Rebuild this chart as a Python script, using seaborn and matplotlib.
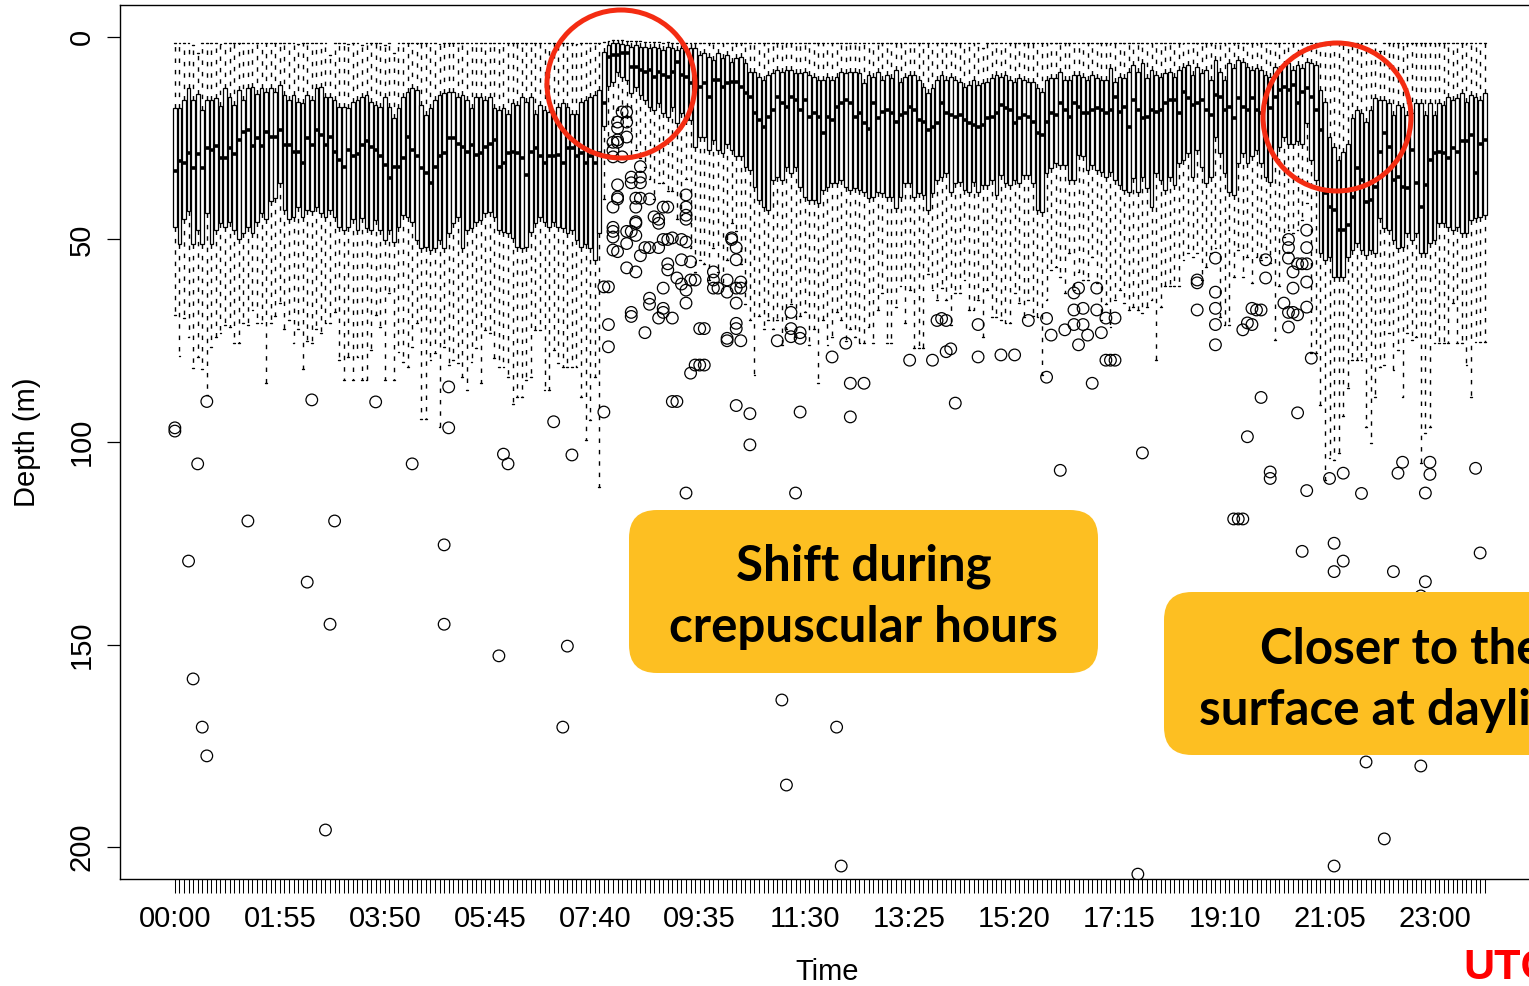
import numpy as np
import pandas as pd
import matplotlib
matplotlib.use("Agg")
import matplotlib.pyplot as plt
import seaborn as sns
from matplotlib.patches import Ellipse, FancyBboxPatch
from matplotlib.transforms import IdentityTransform

# ---------------- data (depth in m, one box every 5 minutes) ----------------
time_tick_labels = ["00:00", "01:55", "03:50", "05:45", "07:40", "09:35", "11:30",
                    "13:25", "15:20", "17:15", "19:10", "21:05", "23:00"]

upper_whisker = [
    1.6, 1.4, 1.6, 1.4, 2.0, 4.0, 1.6, 1.6, 1.4, 1.6, 1.8, 1.6,
    1.6, 1.4, 1.6, 1.6, 1.6, 1.6, 1.4, 1.6, 1.6, 1.4, 1.6, 1.6,
    1.6, 1.4, 1.6, 1.8, 1.6, 1.6, 1.6, 1.4, 1.6, 1.6, 4.5, 1.6,
    1.4, 1.6, 1.8, 1.6, 1.6, 2.0, 1.6, 1.4, 1.6, 1.6, 2.0, 1.6,
    4.0, 1.6, 1.4, 1.6, 1.6, 1.6, 1.4, 1.6, 1.6, 1.6, 1.8, 1.4,
    1.6, 1.6, 1.4, 1.6, 1.6, 1.4, 1.6, 1.6, 1.6, 1.4, 1.6, 1.6,
    1.6, 1.4, 1.6, 1.6, 1.4, 1.6, 1.6, 1.6, 1.4, 1.6, 1.6, 1.4,
    1.6, 1.6, 1.4, 1.6, 1.8, 1.6, 1.6, 1.4, 1.6, 1.6, 1.2, 1.0,
    0.8, 0.8, 0.8, 1.0, 1.0, 1.0, 1.0, 1.2, 1.2, 1.2, 1.2, 1.4,
    1.2, 1.4, 1.4, 1.4, 1.4, 1.4, 1.4, 1.6, 1.6, 1.6, 1.4, 1.6,
    1.6, 1.4, 1.6, 1.6, 1.6, 1.4, 1.6, 1.6, 1.6, 1.4, 1.6, 1.6,
    1.6, 1.4, 1.6, 1.6, 1.6, 1.4, 1.6, 1.6, 1.4, 1.6, 1.6, 1.6,
    1.6, 1.4, 1.6, 1.6, 1.6, 1.6, 1.4, 1.6, 1.6, 1.6, 1.4, 1.6,
    1.6, 1.6, 1.4, 1.6, 1.6, 1.6, 1.6, 1.4, 1.6, 1.6, 1.6, 1.4,
    1.6, 1.6, 1.6, 1.4, 1.6, 1.6, 1.6, 1.6, 1.4, 2.8, 1.6, 1.6,
    1.6, 1.4, 1.6, 1.6, 1.6, 1.4, 1.6, 1.6, 1.6, 1.6, 1.4, 1.6,
    1.6, 1.6, 1.4, 1.6, 1.6, 1.6, 1.4, 1.6, 1.6, 1.6, 1.4, 1.6,
    1.6, 1.4, 1.6, 1.6, 1.6, 1.4, 1.6, 1.6, 1.6, 1.4, 1.6, 1.6,
    1.6, 1.4, 1.6, 1.6, 1.4, 1.6, 1.6, 1.6, 1.4, 1.6, 1.6, 1.6,
    1.6, 1.6, 1.4, 1.6, 1.6, 1.6, 1.4, 1.6, 1.6, 1.6, 1.6, 1.6,
    1.6, 1.6, 1.6, 1.6, 1.6, 1.6, 1.6, 1.6, 1.6, 1.6, 1.6, 1.6,
    2.0, 1.6, 1.6, 1.6, 1.6, 1.6, 1.6, 1.6, 1.6, 1.6, 1.6, 1.6,
    3.5, 1.6, 1.6, 1.6, 1.6, 1.6, 1.6, 1.6, 1.6, 1.6, 1.6, 1.6,
    1.6, 1.6, 1.6, 1.6, 1.6, 1.6, 1.6, 1.6, 1.6, 1.6, 1.6, 1.6,
]

q1 = [
    17.6, 17.6, 15.6, 12.7, 15.6, 14.0, 18.0, 15.6, 15.6, 15.0, 17.0, 12.7,
    14.7, 16.8, 13.0, 15.6, 12.7, 12.3, 14.0, 12.7, 13.5, 12.7, 13.5, 11.9,
    14.3, 15.6, 14.3, 16.0, 16.4, 14.3, 15.6, 12.7, 12.3, 14.7, 14.7, 15.6,
    17.2, 17.2, 17.6, 16.0, 15.6, 14.7, 14.3, 16.0, 16.8, 17.2, 14.7, 17.2,
    20.1, 17.6, 14.7, 13.5, 12.7, 13.1, 16.8, 19.3, 17.6, 15.6, 14.3, 13.9,
    13.5, 13.5, 14.7, 14.3, 15.6, 17.6, 14.7, 14.7, 15.6, 14.7, 17.6, 18.0,
    17.6, 19.0, 16.4, 16.8, 14.7, 16.0, 14.7, 18.9, 16.8, 18.0, 18.4, 19.3,
    17.2, 16.4, 17.2, 18.9, 18.9, 16.0, 15.6, 14.7, 14.3, 13.1, 3.6, 2.0,
    1.6, 1.6, 1.8, 2.0, 2.4, 2.0, 2.4, 2.4, 2.8, 2.4, 2.8, 3.2,
    2.4, 2.8, 3.2, 2.8, 3.2, 2.8, 2.8, 4.4, 4.0, 4.9, 5.7, 4.0,
    5.3, 4.4, 6.1, 5.3, 4.9, 6.5, 8.6, 8.6, 9.8, 10.6, 9.4, 9.0,
    8.1, 8.6, 8.1, 8.1, 9.0, 9.0, 8.6, 9.4, 9.8, 10.6, 10.6, 9.8,
    10.6, 9.8, 8.6, 9.0, 8.6, 8.6, 9.0, 11.4, 9.4, 9.8, 8.6, 10.6,
    9.4, 10.2, 8.1, 11.0, 9.8, 9.4, 9.4, 10.6, 12.3, 13.9, 12.7, 10.6,
    9.4, 10.6, 9.8, 10.6, 11.0, 12.3, 11.9, 10.6, 11.9, 11.4, 11.0, 10.2,
    9.4, 9.8, 9.4, 10.6, 11.0, 10.2, 10.6, 11.0, 11.0, 12.7, 13.5, 10.6,
    10.2, 10.2, 8.6, 10.6, 10.6, 9.4, 9.4, 9.8, 10.6, 9.4, 10.2, 10.6,
    10.6, 7.7, 11.0, 9.8, 10.2, 8.6, 6.9, 8.6, 6.5, 10.2, 8.1, 9.4,
    9.8, 9.0, 8.6, 9.8, 8.1, 7.3, 6.9, 9.4, 7.3, 9.0, 8.1, 10.6,
    5.7, 8.6, 10.6, 6.5, 7.7, 5.7, 6.1, 7.3, 8.1, 7.7, 8.1, 9.4,
    9.8, 7.3, 8.1, 6.9, 6.5, 8.1, 6.9, 7.7, 6.1, 6.5, 6.9, 13.1,
    16.0, 24.6, 27.1, 30.4, 28.3, 26.3, 20.1, 18.0, 18.8, 20.9, 18.0, 15.1,
    15.6, 15.6, 16.4, 19.3, 16.8, 17.2, 19.3, 18.8, 16.4, 16.4, 19.3, 16.4,
    19.3, 16.4, 16.8, 14.7, 15.6, 15.1, 13.9, 16.0, 14.3, 14.7, 15.6, 13.9,
]

median = [
    33.0, 30.6, 31.0, 28.7, 32.4, 29.0, 32.4, 27.5, 28.0, 27.0, 30.0, 30.0,
    27.5, 29.0, 25.4, 23.4, 23.0, 27.0, 25.0, 27.0, 23.4, 24.6, 24.6, 23.0,
    26.6, 26.6, 28.3, 28.3, 31.2, 25.0, 26.6, 23.0, 24.2, 26.6, 24.6, 28.3,
    30.4, 32.0, 28.0, 29.5, 29.0, 26.6, 25.8, 27.1, 27.9, 29.5, 31.6, 34.9,
    32.0, 32.0, 30.0, 24.6, 27.9, 29.5, 32.4, 33.7, 36.1, 32.0, 29.5, 28.7,
    25.0, 25.0, 26.3, 27.1, 28.3, 26.7, 29.1, 28.7, 27.1, 26.3, 25.4, 32.0,
    31.2, 28.7, 28.3, 28.7, 30.0, 34.1, 28.3, 27.5, 29.5, 31.2, 29.5, 29.5,
    29.1, 31.2, 27.5, 27.5, 29.5, 28.7, 31.2, 29.5, 31.2, 28.7, 16.4, 5.0,
    4.4, 4.5, 4.0, 4.0, 7.3, 7.3, 8.1, 8.6, 8.1, 9.8, 8.6, 9.4,
    9.8, 8.6, 6.1, 9.4, 9.8, 11.4, 9.8, 12.3, 11.4, 14.7, 10.6, 10.6,
    12.3, 11.4, 11.0, 11.0, 12.3, 13.9, 14.7, 18.8, 20.5, 22.1, 19.7, 18.0,
    14.7, 16.4, 17.2, 14.7, 15.6, 18.0, 15.6, 19.7, 18.8, 19.7, 23.8, 19.7,
    20.5, 17.2, 16.4, 15.6, 16.4, 19.7, 18.8, 21.3, 22.6, 16.4, 20.1, 18.4,
    18.0, 18.8, 20.9, 19.3, 18.8, 17.2, 18.0, 20.5, 20.9, 23.0, 22.1, 21.3,
    16.4, 18.8, 19.3, 19.7, 19.3, 20.5, 21.3, 21.7, 22.1, 21.7, 20.1, 19.7,
    18.8, 16.8, 17.6, 18.0, 21.3, 20.1, 19.3, 19.7, 20.9, 23.8, 24.2, 20.9,
    18.8, 19.3, 16.4, 18.0, 19.7, 16.4, 17.2, 18.8, 18.8, 18.0, 17.6, 18.0,
    18.8, 18.0, 14.7, 18.4, 17.2, 22.1, 15.6, 18.0, 20.1, 19.7, 18.0, 18.4,
    18.0, 16.4, 15.6, 15.6, 18.8, 13.5, 15.1, 16.8, 16.4, 15.6, 18.0, 19.3,
    14.3, 14.7, 18.0, 17.2, 20.1, 15.1, 17.2, 18.0, 15.1, 18.0, 18.8, 16.0,
    17.6, 14.7, 13.1, 12.3, 13.1, 11.9, 16.4, 13.5, 12.7, 14.7, 18.0, 23.0,
    38.6, 41.9, 42.7, 47.7, 47.7, 46.4, 39.4, 32.4, 35.3, 40.7, 40.2, 37.0,
    28.3, 23.8, 27.1, 35.3, 34.5, 37.0, 37.4, 27.9, 36.1, 41.9, 36.5, 30.4,
    28.7, 28.3, 28.7, 30.0, 27.5, 28.3, 25.8, 25.8, 24.2, 33.7, 26.3, 25.4,
]

q3 = [
    47.0, 51.0, 45.0, 43.0, 51.0, 47.7, 51.0, 43.5, 51.0, 47.7, 46.0, 47.0,
    45.6, 47.7, 50.0, 48.5, 47.0, 48.5, 45.6, 43.5, 45.0, 40.6, 39.8, 36.0,
    42.7, 45.0, 44.4, 42.0, 44.4, 42.7, 43.0, 42.0, 43.5, 44.4, 42.7, 44.4,
    47.0, 47.7, 47.0, 45.0, 47.7, 44.8, 47.2, 47.7, 45.2, 47.7, 50.1, 47.7,
    50.5, 46.8, 44.0, 44.4, 45.6, 50.1, 52.2, 51.8, 52.6, 52.2, 50.1, 52.2,
    48.5, 46.0, 44.4, 52.2, 47.7, 47.2, 45.6, 45.2, 43.5, 43.1, 44.4, 47.7,
    48.1, 48.5, 49.7, 51.8, 52.2, 51.8, 48.1, 46.0, 44.4, 45.6, 46.8, 45.6,
    46.8, 47.2, 48.5, 47.7, 50.1, 51.8, 51.0, 52.2, 55.1, 48.5, 22.0, 12.0,
    11.0, 8.6, 9.8, 10.6, 13.9, 12.3, 14.3, 15.6, 17.2, 18.0, 16.4, 18.8,
    19.7, 17.2, 21.3, 18.8, 20.5, 20.5, 27.1, 24.6, 24.6, 27.9, 25.4, 27.9,
    28.7, 26.3, 27.9, 29.5, 29.5, 32.0, 32.8, 37.0, 40.2, 41.9, 42.7, 35.3,
    34.5, 35.3, 32.0, 33.7, 32.0, 37.0, 39.4, 40.2, 40.2, 41.1, 37.8, 37.0,
    36.1, 36.1, 35.3, 37.0, 37.8, 37.4, 37.8, 38.2, 39.8, 39.4, 38.2, 38.6,
    39.4, 39.4, 42.3, 39.4, 36.1, 36.1, 39.4, 38.6, 39.0, 42.7, 38.6, 35.3,
    34.5, 33.7, 38.2, 36.1, 35.7, 37.8, 38.2, 35.7, 38.2, 36.5, 36.5, 35.3,
    39.0, 34.1, 36.1, 36.5, 35.3, 36.1, 34.1, 34.1, 36.1, 42.7, 43.1, 33.7,
    32.4, 31.2, 31.6, 31.6, 35.3, 35.3, 29.1, 29.5, 32.8, 31.6, 32.8, 33.3,
    34.5, 33.3, 35.3, 36.5, 37.8, 38.2, 34.9, 38.2, 34.5, 37.4, 41.9, 33.7,
    35.3, 37.8, 34.5, 36.5, 31.2, 30.4, 28.7, 34.5, 27.9, 32.0, 36.1, 34.5,
    24.6, 28.7, 33.7, 38.2, 39.0, 31.2, 28.7, 31.2, 29.5, 27.9, 31.2, 34.5,
    35.7, 29.5, 27.1, 24.6, 26.3, 26.3, 25.8, 26.3, 21.3, 30.4, 35.3, 53.4,
    55.1, 54.2, 59.2, 59.2, 59.2, 54.2, 52.6, 50.9, 52.6, 53.8, 52.6, 53.4,
    44.8, 47.2, 47.7, 50.1, 52.2, 51.8, 48.5, 50.1, 48.5, 53.4, 53.4, 50.9,
    50.1, 46.0, 46.0, 46.8, 47.7, 46.8, 48.5, 48.5, 45.2, 44.8, 44.4, 44.0,
]

lower_whisker = [
    68.6, 78.8, 69.5, 74.0, 81.8, 79.0, 82.0, 88.4, 76.5, 74.0, 73.0, 71.0,
    71.5, 75.6, 75.6, 70.7, 71.0, 67.4, 70.7, 70.7, 85.5, 70.7, 69.0, 65.7,
    72.0, 70.0, 75.6, 72.0, 82.0, 75.0, 75.6, 72.0, 73.0, 70.7, 70.7, 68.0,
    79.8, 84.7, 79.0, 84.7, 79.0, 84.7, 84.7, 77.3, 68.6, 71.5, 84.7, 63.3,
    84.7, 77.7, 80.2, 81.4, 76.5, 70.7, 94.2, 94.2, 79.8, 78.1, 96.2, 76.5,
    81.0, 79.8, 80.6, 83.9, 87.2, 80.2, 76.9, 85.5, 72.3, 73.2, 79.3, 81.4,
    81.4, 83.9, 90.5, 88.8, 88.8, 84.7, 83.9, 72.3, 72.3, 87.2, 87.2, 77.3,
    80.6, 81.4, 81.4, 81.4, 81.4, 88.8, 99.5, 94.6, 83.9, 111.0, 40.0, 30.0,
    22.0, 18.0, 20.0, 22.0, 30.0, 28.0, 30.0, 32.0, 35.0, 40.0, 36.0, 36.0,
    38.0, 38.0, 45.0, 44.0, 35.0, 52.0, 58.0, 55.0, 56.0, 60.0, 52.0, 58.0,
    62.0, 55.0, 46.0, 48.0, 56.0, 66.0, 70.0, 83.5, 69.0, 72.0, 70.0, 72.0,
    70.0, 76.0, 72.0, 66.0, 74.0, 69.0, 68.0, 76.0, 72.0, 85.5, 70.0, 76.0,
    74.0, 68.0, 70.0, 75.0, 72.0, 74.0, 75.6, 75.6, 71.5, 75.6, 67.4, 63.3,
    75.6, 75.6, 66.6, 61.6, 70.7, 62.5, 76.9, 76.9, 76.9, 58.4, 62.5, 64.9,
    62.0, 64.9, 71.1, 63.3, 63.3, 60.0, 67.4, 67.4, 64.9, 74.0, 62.5, 69.1,
    69.1, 69.9, 70.7, 70.7, 63.3, 65.8, 69.1, 65.0, 69.0, 69.1, 83.5, 64.9,
    57.5, 56.7, 59.2, 63.3, 53.4, 62.5, 58.0, 60.0, 60.0, 54.2, 60.8, 69.9,
    66.0, 71.5, 64.9, 62.5, 65.8, 67.4, 66.6, 67.4, 68.2, 66.6, 64.9, 79.8,
    66.6, 61.6, 61.6, 61.6, 61.6, 55.1, 53.4, 54.2, 53.4, 60.0, 56.7, 53.4,
    52.0, 69.1, 71.1, 71.1, 59.2, 52.6, 59.2, 54.2, 60.8, 54.2, 55.1, 54.2,
    55.9, 74.8, 61.6, 49.3, 47.7, 48.5, 47.7, 45.2, 41.1, 78.1, 78.1, 90.9,
    109.4, 104.0, 104.4, 102.8, 93.7, 86.7, 79.8, 79.8, 79.8, 96.2, 100.3, 88.8,
    81.4, 81.0, 73.2, 82.2, 77.3, 88.8, 73.2, 74.8, 74.0, 105.3, 97.9, 96.2,
    75.6, 75.6, 75.6, 75.6, 65.8, 75.6, 75.6, 81.0, 88.8, 75.2, 75.2, 75.2,
]

outlier_slot = [
    0, 0, 3, 4, 5, 6, 7, 7, 16, 29, 30, 33, 34, 35, 44, 52, 59, 59, 60, 60,
    71, 72, 73, 83, 85, 86, 87, 94,
    94, 95, 96, 96, 96, 96, 96, 96, 95, 95,
    98, 99, 97, 99, 97, 99, 97, 97, 98, 96,
    102, 100, 102, 100, 102, 97, 97, 97, 101, 102, 104, 101,
    112, 112, 112, 112, 107, 108, 105, 106, 106, 101, 101,
    96, 99, 100, 101, 99, 97,
    103, 104, 106, 107, 108, 109, 111, 112,
    102, 111, 113, 99, 101,
    108, 108, 110, 111, 112, 113, 114, 107,
    104, 104, 112,
    100, 100, 107, 106, 109, 107, 103,
    115, 116, 114, 115, 116, 113, 109, 110, 112,
    118, 118, 118, 119, 121, 121, 123, 124, 124, 123,
    122, 123, 123, 122,
    123, 123, 121, 121, 124, 123, 126, 126,
    132, 135, 135, 135, 137, 137, 137, 136,
    144, 147, 148, 148, 151, 133, 134, 145, 146,
    161, 166, 167, 168, 169, 169, 170, 171, 176, 176, 181, 184, 187, 191, 192, 191,
    195, 197, 197, 198, 197, 199, 199, 200, 198, 202, 202, 203, 204, 206, 204, 205,
    206, 201, 194, 212, 211,
    224, 224, 224, 228, 228, 228, 228, 228,
    234, 235, 236, 236, 237, 238, 239, 239,
    238, 235, 240, 240,
    243, 244, 245, 246, 244, 244, 244, 244, 245, 245,
    246, 247, 248, 248, 248, 248, 248,
    249, 246, 248, 253, 256,
    232, 233, 234, 247, 254, 256, 254,
    260, 268, 269, 274, 275, 275, 285,
    267, 274, 286, 273, 261, 273, 265, 254,
]

outlier_depth = [
    96.5, 97.3, 129.4, 158.5, 105.4, 170.4, 177.5, 90.0, 119.5, 134.6, 89.6, 195.8,
    145.0, 119.5, 90.1, 105.4, 125.4, 145.0, 86.4, 96.5,
    152.8, 103.0, 105.4, 95.0, 170.4, 150.4, 103.2, 92.6,
    61.7, 61.7, 52.6, 49.4, 47.0, 42.0, 26.0, 29.6, 71.0, 76.5,
    18.5, 18.5, 21.0, 21.0, 22.5, 24.7, 25.4, 26.0, 29.6, 28.0,
    32.0, 34.6, 34.6, 36.0, 36.0, 36.5, 39.5, 40.0, 39.8, 39.8, 40.0, 42.0,
    39.0, 42.0, 44.0, 45.0, 42.0, 42.0, 44.4, 45.0, 46.0, 45.6, 46.0,
    48.0, 48.0, 48.0, 49.0, 51.0, 53.0,
    52.0, 52.0, 52.0, 50.0, 50.0, 49.6, 50.0, 50.6,
    54.0, 55.0, 55.5, 57.0, 58.0,
    56.0, 57.5, 59.5, 61.0, 62.5, 60.0, 60.0, 62.0,
    64.5, 66.0, 65.7,
    68.0, 69.0, 67.0, 69.4, 69.4, 68.0, 73.0,
    72.0, 72.0, 81.0, 81.0, 81.0, 83.0, 90.0, 90.0, 112.6,
    58.0, 60.0, 62.0, 62.0, 60.0, 63.0, 62.0, 60.5, 62.0, 65.7,
    49.6, 52.0, 55.0, 50.0,
    70.7, 72.0, 74.4, 75.0, 75.0, 91.0, 93.0, 100.7,
    75.0, 68.0, 72.0, 74.0, 73.0, 74.4, 92.6, 112.6,
    79.0, 75.6, 85.5, 93.8, 85.5, 163.7, 184.7, 170.4, 204.7,
    79.8, 79.8, 70.0, 69.5, 70.0, 77.7, 77.0, 90.4, 71.0, 79.0, 78.5, 78.5, 70.0, 69.5, 73.6, 84.0,
    72.3, 71.0, 67.4, 62.0, 63.2, 67.0, 71.0, 73.6, 76.0, 62.0, 67.4, 73.0, 69.4, 69.4, 79.8, 79.8,
    79.8, 85.5, 107.0, 102.7, 206.7,
    60.0, 60.7, 67.4, 54.6, 63.0, 67.0, 71.0, 76.0,
    72.3, 70.6, 71.0, 67.0, 67.4, 67.4, 55.0, 59.5,
    89.0, 98.7, 107.4, 109.0,
    65.7, 68.0, 68.0, 68.6, 71.6, 50.0, 52.0, 54.6, 58.0, 62.0,
    56.0, 56.0, 52.0, 47.7, 56.0, 60.5, 66.7,
    79.3, 92.8, 112.0, 109.0, 107.7,
    119.0, 119.0, 119.0, 127.0, 125.0, 129.4, 132.0,
    112.7, 107.7, 105.0, 112.6, 105.0, 108.0, 106.5,
    132.0, 134.5, 127.4, 138.0, 179.0, 180.0, 198.0, 204.7,
]

# ---------------- long-form table: five summary values per 5-min slot ----------------
n_slots = len(median)
rows = []
for i in range(n_slots):
    for v in (upper_whisker[i], q1[i], median[i], q3[i], lower_whisker[i]):
        rows.append((i, v))
df = pd.DataFrame(rows, columns=["slot", "depth"])
out_df = pd.DataFrame({"slot": outlier_slot, "depth": outlier_depth})

# ---------------- figure ----------------
sns.set_theme(style="white")
plt.rcParams["font.family"] = ["Liberation Sans", "DejaVu Sans"]
for key in ["text.color", "axes.labelcolor", "xtick.color", "ytick.color", "axes.edgecolor"]:
    plt.rcParams[key] = "black"

W, H = 1529, 986
fig = plt.figure(figsize=(W / 100, H / 100), dpi=100)
ax = fig.add_axes([120 / W, 1 - 879 / H, 1415 / W, 874 / H])

sns.boxplot(
    data=df, x="slot", y="depth", orient="x", native_scale=True,
    width=0.8, whis=(0, 100), showfliers=False,
    color="white", saturation=1, linecolor="black", linewidth=0.9, ax=ax,
    boxprops=dict(edgecolor="black", linewidth=0.9, facecolor="white"),
    whiskerprops=dict(color="black", linestyle=(0, (3.2, 5.0)), linewidth=1.0),
    capprops=dict(color="black", linewidth=1.0),
    medianprops=dict(color="black", linewidth=2.6, solid_capstyle="butt"),
)
sns.scatterplot(
    data=out_df, x="slot", y="depth", ax=ax, marker="o", s=70,
    facecolor="none", edgecolor="black", linewidth=0.9, zorder=5, legend=False,
)

ax.set_xlim(-12.02, 298.02)
ax.set_ylim(207.9, -7.9)

# x ticks: one per box, label every 23rd slot
tick_labels = [""] * n_slots
for lab in time_tick_labels:
    hh, mm = lab.split(":")
    tick_labels[(int(hh) * 60 + int(mm)) // 5] = lab
ax.set_xticks(range(n_slots))
ax.set_xticklabels(tick_labels)
ax.tick_params(axis="x", bottom=True, direction="out", length=10, width=0.75,
               color="black", labelcolor="black", labelsize=21, pad=9)

ax.set_yticks([0, 50, 100, 150, 200])
ax.set_yticklabels(["0", "50", "100", "150", "200"], rotation=90, va="center")
ax.tick_params(axis="y", left=True, direction="out", length=9.5, width=0.9,
               color="black", labelcolor="black", labelsize=21, pad=8)

ax.set_xlabel("Time", fontsize=21, labelpad=18, color="black")
ax.set_ylabel("Depth (m)", fontsize=21, labelpad=19, color="black")
for sp in ax.spines.values():
    sp.set_visible(True)
    sp.set_color("black")
    sp.set_linewidth(1.0)
ax.grid(False)

# ---------------- annotations ----------------
red = "#F42C12"
for cx, cy in [(621, 84), (1337, 117)]:
    fig.add_artist(Ellipse((cx / W, 1 - cy / H), 148 / W, 148 / H,
                           transform=fig.transFigure, fill=False,
                           edgecolor=red, linewidth=3.6, zorder=10))

gold = "#FDBF22"
fig.add_artist(FancyBboxPatch((629, H - 673), 469, 163,
                              boxstyle="round,pad=0,rounding_size=28",
                              transform=IdentityTransform(), facecolor=gold,
                              edgecolor="none", zorder=11))
fig.add_artist(FancyBboxPatch((1164, H - 755), 540, 163,
                              boxstyle="round,pad=0,rounding_size=28",
                              transform=IdentityTransform(), facecolor=gold,
                              edgecolor="none", zorder=11))
fig.text(863.5 / W, 1 - 597 / H, "Shift during\ncrepuscular hours",
         ha="center", va="center", fontsize=35.5, fontweight="bold", color="black",
         family=["Lato", "DejaVu Sans"], linespacing=1.42, zorder=12)
fig.text(1401 / W, 1 - 680 / H, "Closer to the\nsurface at daylight",
         ha="center", va="center", fontsize=35.5, fontweight="bold", color="black",
         family=["Lato", "DejaVu Sans"], linespacing=1.42, zorder=12)
fig.text(1463 / W, 1 - 968 / H, "UTC", ha="left", va="center", color="#FF0000",
         fontsize=31, fontweight="bold", zorder=12)

fig.savefig("out.png", dpi=100)
